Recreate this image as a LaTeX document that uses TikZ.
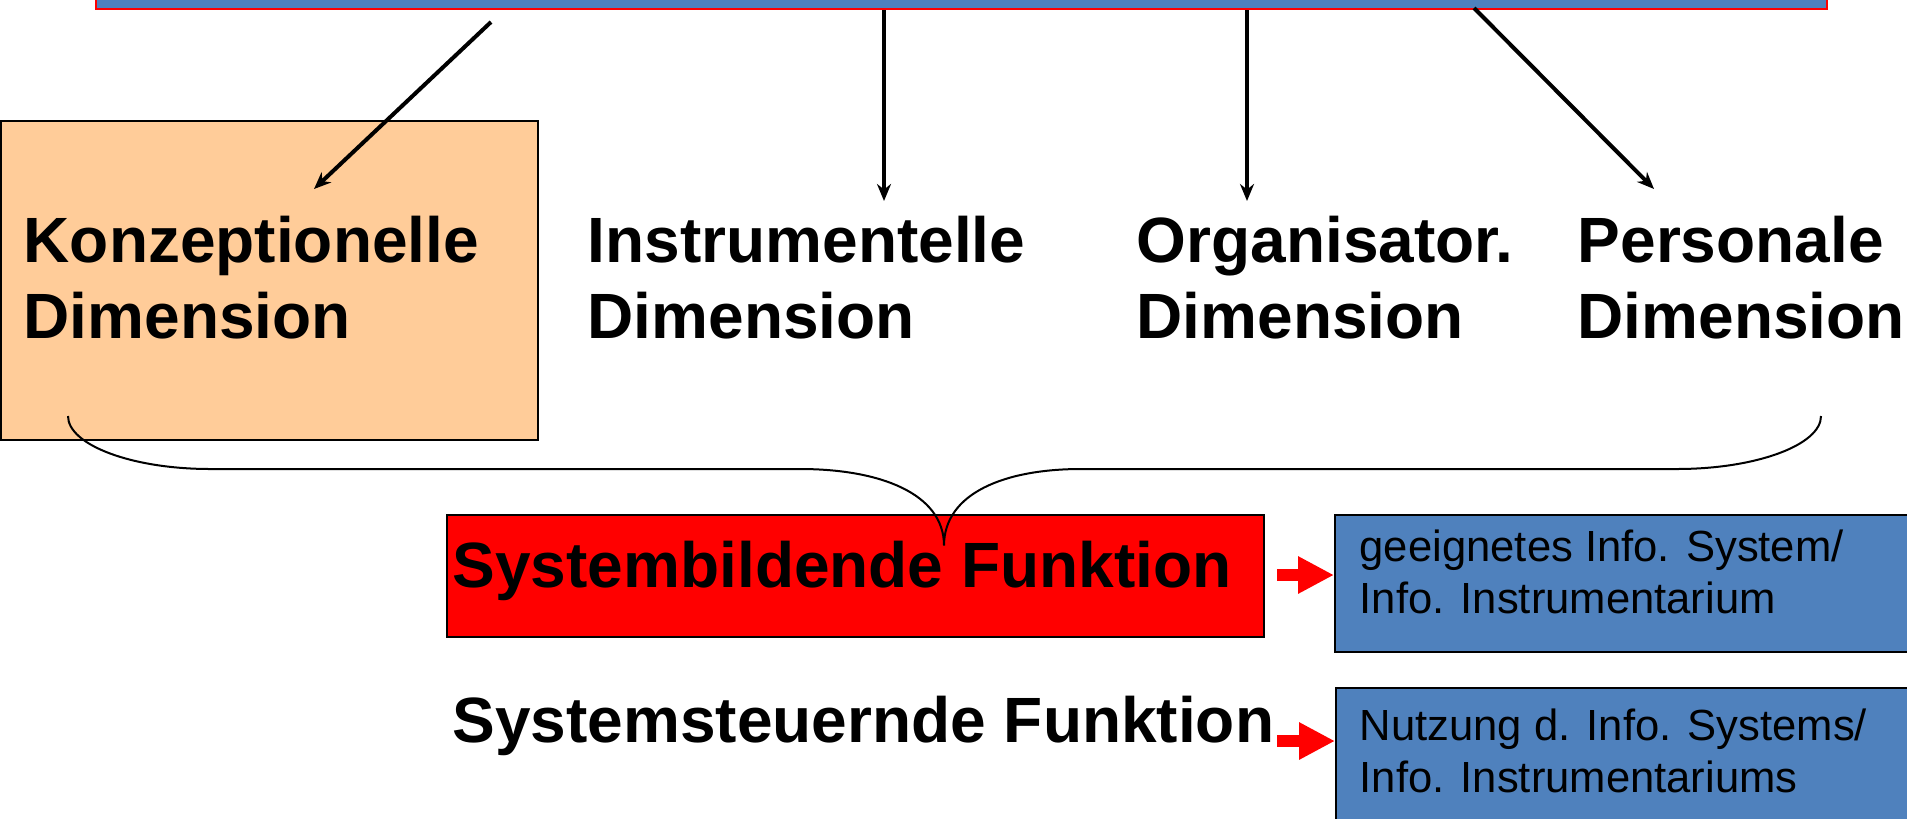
\documentclass[tikz,border=0pt]{standalone}
\usepackage{fontspec}
\setmainfont{Liberation Sans}
\usepackage{tikz}
\usetikzlibrary{positioning, arrows.meta}
\definecolor{officeblue}{HTML}{4F81BD}
\definecolor{lightorange}{HTML}{FFCC99}
\tikzstyle{bar} = [rectangle, draw=red, line width=0.02cm, fill=officeblue]
\tikzstyle{orangebox} = [rectangle, draw=black, line width=0.015cm, fill=lightorange]
\tikzstyle{redbox} = [rectangle, draw=black, line width=0.015cm, fill=red]
\tikzstyle{infobox} = [rectangle, draw=black, line width=0.02cm, fill=officeblue, minimum width=6.2cm, anchor=north west]
\tikzstyle{dimlabel} = [font=\fontsize{18.2}{21.6}\selectfont\bfseries, align=left, inner sep=0pt, anchor=base west]
\tikzstyle{funclabel} = [font=\fontsize{18.2}{21.6}\selectfont\bfseries, inner sep=0pt, anchor=base west]
\tikzstyle{infotext} = [font=\fontsize{12.4}{14.6}\selectfont, align=left, inner sep=0pt, anchor=base west]
\tikzstyle{arrow} = [line width=0.04cm, -{Stealth[length=0.17cm, width=0.14cm]}]
\tikzstyle{redarrow} = [draw=red, line width=0.12cm, -{Triangle[length=0.36cm, width=0.35cm, fill=red]}]
\tikzstyle{brace} = [line width=0.02cm]

\begin{document}
\begin{tikzpicture}[x=0.01cm, y=-0.01cm]
\useasboundingbox (0,0) rectangle (1907,818);

\node (topbar) [bar, anchor=south west, minimum width=17.3cm, minimum height=1cm] at (95,10) {}; % runs off the top
\node (konzbox) [orangebox, anchor=north west, minimum width=5.37cm, minimum height=3.19cm] at (0,120) {};

% base anchor sits on the last line
\node (konz) [dimlabel] at (23,338) {Konzeptionelle\\Dimension};
\node (instr) [dimlabel] at (587,338) {Instrumentelle\\Dimension};
\node (orga) [dimlabel] at (1136,338) {Organisator.\\Dimension};
\node (pers) [dimlabel] at (1577,338) {Personale\\Dimension};

\node (bildbox) [redbox, anchor=north west, minimum width=8.17cm, minimum height=1.22cm] at (446,514) {};
\node (bild) [funclabel] at (452,587) {Systembildende Funktion};
\node (steuer) [funclabel] at (452,742) {Systemsteuernde Funktion};

\node (info1) [infobox, minimum height=1.37cm] at (1334,514) {};
\node (info2) [infobox, minimum height=1.6cm] at (1335,687) {};
\node (info1txt) [infotext] at (1359,613) {geeignetes Info. System/\\Info. Instrumentarium};
\node (info2txt) [infotext] at (1359,792) {Nutzung d. Info. Systems/\\Info. Instrumentariums};

\coordinate (k-from) at (491,22);
\coordinate (k-to) at (314,189);
\coordinate (i-to) at (884,201);
\coordinate (o-to) at (1247,201);
\coordinate (p-from) at (1474,8);
\coordinate (p-to) at (1654,189);
\draw [arrow] (k-from) -- (k-to);
\draw [arrow] (topbar.south -| i-to) -- (i-to);
\draw [arrow] (topbar.south -| o-to) -- (o-to);
\draw [arrow] (p-from) -- (p-to);

% curly brace over the dimensions
\coordinate (braceL) at (68,416);
\coordinate (braceR) at (1821,416);
\coordinate (bracetip) at (bildbox.north -| 944,0);
\draw [brace] (braceL) .. controls (68,445) and (132,469) .. (210,469) -- (800,469)
  .. controls (879,469) and (944,493) .. ([yshift=-9]bracetip)
  .. controls (944,493) and (1005,469) .. (1081,469) -- (1677,469)
  .. controls (1756,469) and (1821,445) .. (braceR);

\coordinate (r1) at (1277,575);
\coordinate (r2) at (1277,741);
\draw [redarrow] (r1) -- (r1 -| info1.west);
\draw [redarrow] (r2) -- (r2 -| info2.west);

\end{tikzpicture}
\end{document}
